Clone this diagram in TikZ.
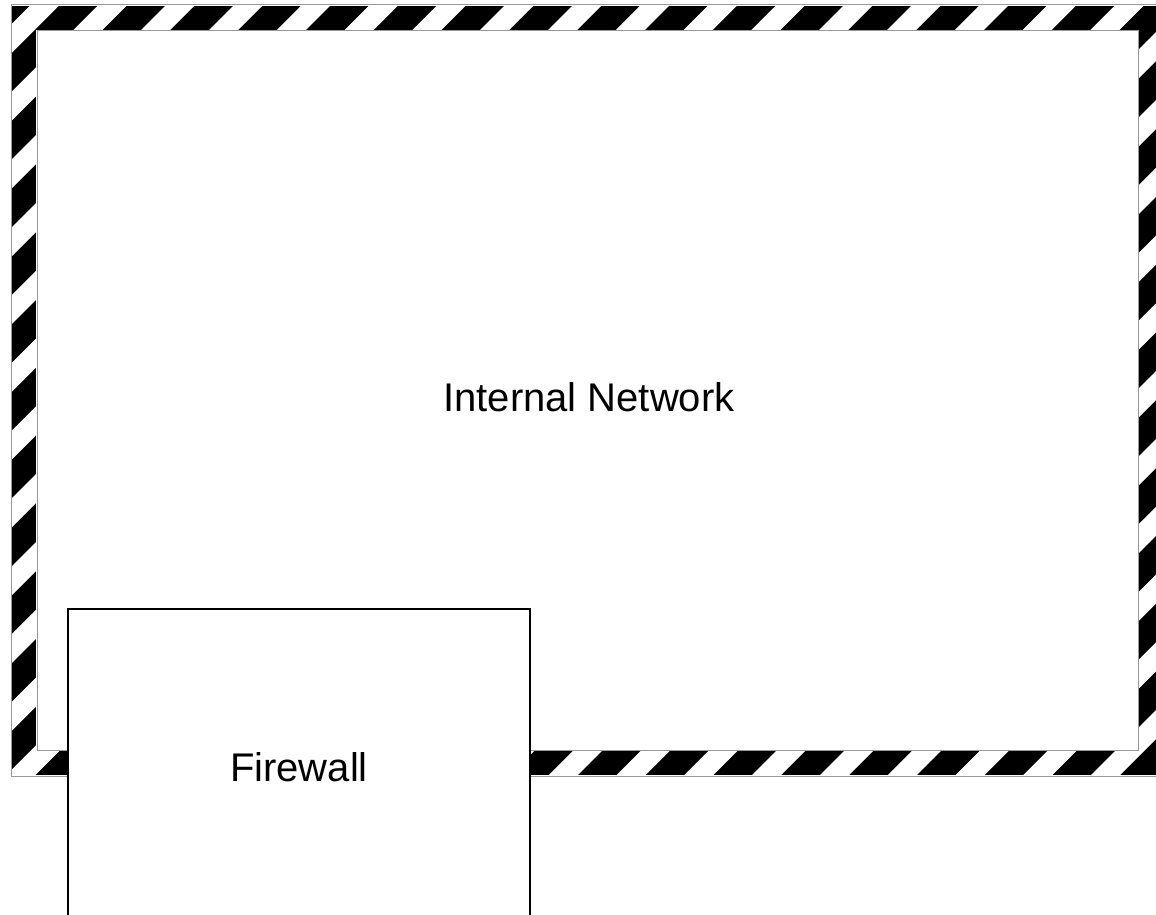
\documentclass[tikz,border=0pt]{standalone}
\usepackage{fontspec}
\setmainfont{Liberation Sans}
\tikzset{
  framebox/.style={draw=gray!80, line width=1pt},
  gapbox/.style={draw=white, line width=2.6pt},
  wallbox/.style={draw=black, line width=1.5pt, fill=white, minimum width=462pt, minimum height=316pt, inner sep=0pt},
}
\begin{document}
\begin{tikzpicture}[x=1pt, y=-1pt, font=\fontsize{40}{48}\selectfont, line join=miter]
			\useasboundingbox (0,0) rectangle (1156,915);
			\coordinate (outerA) at (11,5);
			\coordinate (outerB) at (1164,776);
			\coordinate (innerA) at (37,31);
			\coordinate (innerB) at (1138,750);
			\fill[black] (outerA) rectangle (outerB);
			\begin{scope}
			\clip (outerA) rectangle (outerB);
			\foreach \k in {-2,...,28}
			\fill[white] ({103.4+67.8*\k},0) -- ({132.4+67.8*\k},0) -- ({132.4+67.8*\k-1000},1000) -- ({103.4+67.8*\k-1000},1000) -- cycle;
			\end{scope}
			\draw[gapbox] (outerA) rectangle (outerB);
			\filldraw[gapbox, fill=white] (innerA) rectangle (innerB);
			\draw[framebox] (outerA) rectangle (outerB);
			\draw[framebox] (innerA) rectangle (innerB);
			\node (netlabel) at (589,397.5) {Internal Network};
			\node[wallbox] (firewall) at (299,767) {Firewall};
		\end{tikzpicture}
\end{document}
